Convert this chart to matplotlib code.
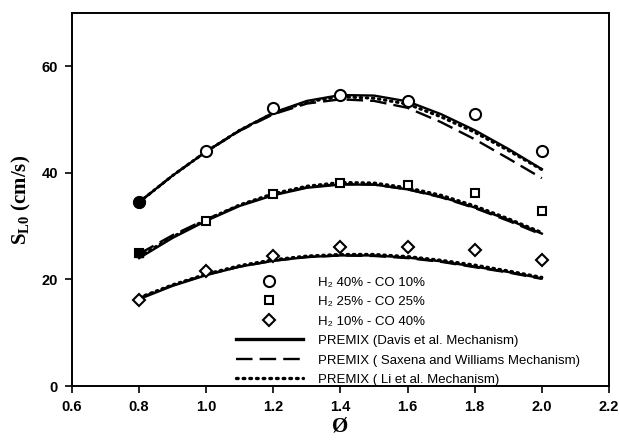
import matplotlib.pyplot as plt

plt.rcParams['font.family'] = ['Liberation Sans', 'DejaVu Sans']
plt.rcParams['mathtext.fontset'] = 'custom'
plt.rcParams['mathtext.rm'] = 'Liberation Sans'
plt.rcParams['mathtext.bf'] = 'Liberation Serif:bold'
plt.rcParams['mathtext.default'] = 'rm'

# measured laminar burning velocities
phi_exp = [0.8, 1.0, 1.2, 1.4, 1.6, 1.8, 2.0]
s_h40 = [34.5, 44.1, 52.2, 54.6, 53.4, 51.0, 44.1]
s_h25 = [24.9, 31.0, 36.0, 38.1, 37.8, 36.3, 32.9]
s_h10 = [16.1, 21.6, 24.4, 26.1, 26.1, 25.5, 23.6]

# PREMIX predictions
phi_sim = [0.8, 0.9, 1.0, 1.1, 1.2, 1.3, 1.4, 1.5, 1.6, 1.7, 1.8, 1.9, 2.0]
davis_h40 = [34.5, 39.5, 44.0, 48.0, 51.3, 53.5, 54.6, 54.5, 53.4, 51.0, 48.0, 44.5, 40.7]
saxena_h40 = [34.5, 39.5, 44.0, 47.9, 51.0, 53.0, 53.8, 53.5, 52.2, 49.5, 46.3, 42.7, 39.0]
li_h40 = [34.5, 39.5, 44.0, 48.0, 51.2, 53.3, 54.3, 54.0, 52.9, 50.5, 47.6, 44.2, 40.6]

davis_h25 = [24.0, 27.8, 31.0, 33.8, 35.8, 37.2, 37.8, 37.8, 36.9, 35.5, 33.5, 31.2, 28.6]
saxena_h25 = [24.8, 28.3, 31.3, 33.9, 35.9, 37.3, 37.9, 37.8, 36.9, 35.4, 33.4, 31.0, 28.4]
li_h25 = [24.3, 28.0, 31.2, 34.0, 36.1, 37.5, 38.2, 38.1, 37.2, 35.8, 33.8, 31.4, 28.8]

davis_h10 = [16.3, 18.8, 20.8, 22.4, 23.5, 24.2, 24.5, 24.5, 24.1, 23.4, 22.4, 21.4, 20.2]
saxena_h10 = [16.5, 18.9, 20.9, 22.4, 23.5, 24.2, 24.5, 24.4, 24.0, 23.3, 22.3, 21.3, 20.1]
li_h10 = [16.6, 19.0, 21.0, 22.6, 23.7, 24.4, 24.7, 24.7, 24.3, 23.6, 22.7, 21.6, 20.4]

labels_exp = ['H\u2082 40% - CO 10%', 'H\u2082 25% - CO 25%', 'H\u2082 10% - CO 40%']
labels_sim = ['PREMIX (Davis et al. Mechanism)',
              'PREMIX ( Saxena and Williams Mechanism)',
              'PREMIX ( Li et al. Mechanism)']

fig = plt.figure(figsize=(6.19, 4.40), dpi=100)
ax = fig.add_axes([0.1163, 0.1227, 0.8675, 0.8478])

lw = 1.7
dash = (0, (7, 3))
dots = (0, (0.5, 1.5))
for davis, saxena, li in [(davis_h40, saxena_h40, li_h40),
                          (davis_h25, saxena_h25, li_h25),
                          (davis_h10, saxena_h10, li_h10)]:
    ax.plot(phi_sim, davis, color='black', lw=lw, ls='-')
    ax.plot(phi_sim, saxena, color='black', lw=lw, ls=dash)
    ax.plot(phi_sim, li, color='black', lw=lw + 0.5, ls=dots,
            dash_capstyle='round')

mk = dict(ls='none', mfc='white', mec='black', mew=1.5)
ax.plot(phi_exp, s_h40, marker='o', ms=8, **mk)
ax.plot(phi_exp, s_h25, marker='s', ms=6, **mk)
ax.plot(phi_exp, s_h10, marker='D', ms=6.5, **mk)
# first points drawn filled
ax.plot(phi_exp[0], s_h40[0], marker='o', ms=8, color='black', ls='none')
ax.plot(phi_exp[0], s_h25[0], marker='s', ms=6, color='black', ls='none')

# legend proxies
h = [ax.plot([], [], marker='o', ms=8, **mk)[0],
     ax.plot([], [], marker='s', ms=6, **mk)[0],
     ax.plot([], [], marker='D', ms=6.5, **mk)[0],
     ax.plot([], [], color='black', lw=2.4, ls='-')[0],
     ax.plot([], [], color='black', lw=lw, ls=dash)[0],
     ax.plot([], [], color='black', lw=lw + 0.7, ls=dots,
             dash_capstyle='round')[0]]
ax.legend(h, labels_exp + labels_sim, loc='upper left',
          bbox_to_anchor=(0.305, 0.294), frameon=False, fontsize=9.5,
          handlelength=5.1, handletextpad=1.1, labelspacing=0.55,
          borderpad=0, borderaxespad=0)

ax.set_xlim(0.6, 2.2)
ax.set_ylim(0, 70)
ax.set_xticks([0.6, 0.8, 1.0, 1.2, 1.4, 1.6, 1.8, 2.0, 2.2])
ax.set_yticks([0, 20, 40, 60])
ax.tick_params(direction='out', length=5, width=1.2, labelsize=10.5)
ax.tick_params(axis='x', pad=5)
ax.tick_params(axis='y', pad=5)
for lab in ax.get_xticklabels() + ax.get_yticklabels():
    lab.set_fontweight('bold')
for sp in ax.spines.values():
    sp.set_linewidth(1.4)

ax.set_xlabel('Ø', family='Liberation Serif', fontsize=15, fontweight='bold',
              labelpad=2)
ax.set_ylabel(r'$\mathbf{S_{L0}}$ (cm/s)', family='Liberation Serif',
              fontsize=15, fontweight='bold', labelpad=6)

fig.savefig('out.png', dpi=100)
